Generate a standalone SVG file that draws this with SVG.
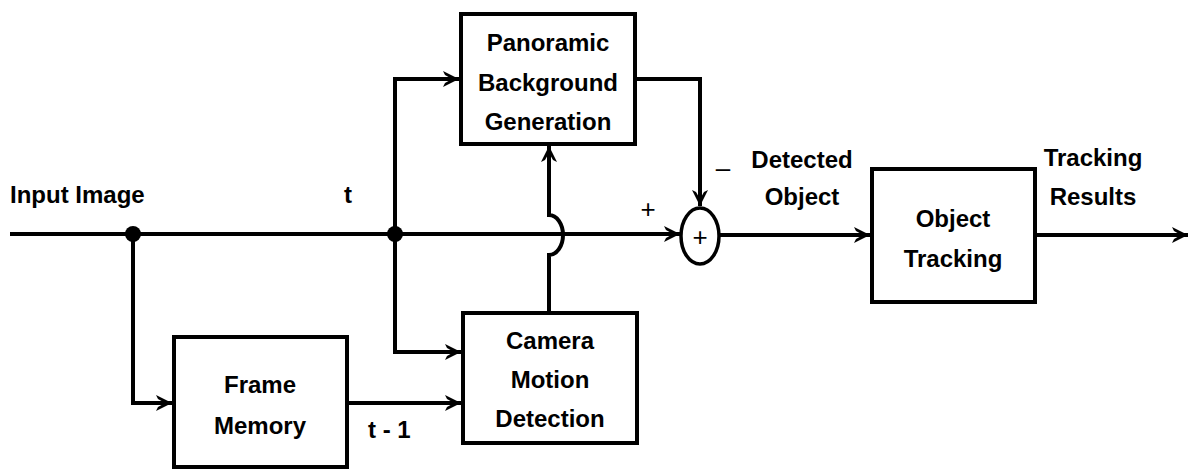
<svg xmlns="http://www.w3.org/2000/svg" width="1191" height="471" viewBox="0 0 1191 471">
<style>
.box{fill:#fff;stroke:#000;stroke-width:4}
.ln{fill:none;stroke:#000;stroke-width:4}
.t{font-family:"Liberation Sans",Arial,sans-serif;font-weight:bold;font-size:24px;fill:#000}
.c{text-anchor:middle}
.s{font-family:"Liberation Sans",Arial,sans-serif;font-size:26px;fill:#000;text-anchor:middle}
</style>
<defs>
<marker id="ah" viewBox="0 0 18 18" refX="17" refY="9" markerWidth="18" markerHeight="18" markerUnits="userSpaceOnUse" orient="auto">
<path d="M1,1 L17,9 L1,17 L3,13 L10,9 L3,5 Z" fill="#000"/>
<path d="M4,7 L12,9 L4,11 Z" fill="#000"/>
</marker>
</defs>
<rect width="1191" height="471" fill="#fff"/>
<g id="connectors">
<path class="ln" d="M10,234 H680" marker-end="url(#ah)"/>
<path class="ln" d="M395,234 V79 H459" marker-end="url(#ah)"/>
<path class="ln" d="M395,234 V352 H461" marker-end="url(#ah)"/>
<path class="ln" d="M133,234 V403 H172" marker-end="url(#ah)"/>
<path class="ln" d="M347,403 H461" marker-end="url(#ah)"/>
<path class="ln" d="M549,313 V255 A14,20 0 0 0 549,215 V146" marker-end="url(#ah)"/>
<path class="ln" d="M635,79 H700 V206" marker-end="url(#ah)"/>
<path class="ln" d="M719,235 H870" marker-end="url(#ah)"/>
<path class="ln" d="M1035,235 H1188" marker-end="url(#ah)"/>
<circle cx="133" cy="234" r="8" fill="#000"/>
<circle cx="395" cy="234" r="8" fill="#000"/>
</g>
<g id="sum">
<ellipse cx="700" cy="236" rx="19" ry="28" fill="#fff" stroke="#000" stroke-width="3.5"/>
<text class="s" x="700" y="246">+</text>
</g>
<g id="panoramic">
<rect class="box" x="461" y="14" width="174" height="130"/>
<text class="t c" x="548" y="51">Panoramic</text>
<text class="t c" x="548" y="91">Background</text>
<text class="t c" x="548" y="130">Generation</text>
</g>
<g id="camera">
<rect class="box" x="463" y="313" width="174" height="130"/>
<text class="t c" x="550" y="349">Camera</text>
<text class="t c" x="550" y="388">Motion</text>
<text class="t c" x="550" y="427">Detection</text>
</g>
<g id="frame">
<rect class="box" x="174" y="337" width="173" height="130"/>
<text class="t c" x="260" y="393">Frame</text>
<text class="t c" x="260" y="434">Memory</text>
</g>
<g id="tracking">
<rect class="box" x="872" y="169" width="163" height="133"/>
<text class="t c" x="953" y="227">Object</text>
<text class="t c" x="953" y="267">Tracking</text>
</g>
<g id="labels">
<text class="t" x="10" y="203">Input Image</text>
<text class="t" x="344" y="203">t</text>
<text class="t" x="368" y="438">t - 1</text>
<text class="t c" x="802" y="168">Detected</text>
<text class="t c" x="802" y="205">Object</text>
<text class="t c" x="1093" y="166">Tracking</text>
<text class="t c" x="1093" y="205">Results</text>
<text class="s" x="648" y="218">+</text>
<text class="s" x="723" y="177">–</text>
</g>
</svg>
